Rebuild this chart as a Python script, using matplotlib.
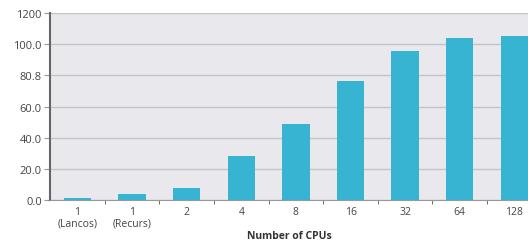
import matplotlib
matplotlib.use('Agg')
import matplotlib.pyplot as plt
import numpy as np

# data
categories = ['1\n(Lancos)', '1\n(Recurs)', '2', '4', '8', '16', '32', '64', '128']
speedup = [1.5, 4.0, 7.5, 28.4, 49.0, 76.5, 95.8, 104.0, 105.2]
ytick_values = [0, 20, 40, 60, 80, 100, 120]
ytick_labels = ['0.0', '20.0', '40.0', '60.0', '80.8', '100.0', '1200']

plt.rcParams['font.family'] = ['Open Sans', 'DejaVu Sans']

fig = plt.figure(figsize=(5.28, 2.53), dpi=100)
ax = fig.add_axes([0.095, 0.205, 0.905, 0.74])
ax.set_facecolor('#e9e9ed')

x = np.arange(len(categories))
ax.bar(x, speedup, width=0.5, color='#36b4d2', zorder=3)

ax.set_ylim(0, 120)
ax.set_yticks(ytick_values)
ax.set_yticklabels(ytick_labels, fontsize=8, color='#444444')
ax.yaxis.grid(True, color='#c4c4c9', linewidth=1.0, zorder=0)
ax.set_xlim(-0.5, 8.25)
ax.set_xticks(x)
ax.set_xticklabels(categories, fontsize=7.5, color='#444444', linespacing=1.1)
ax.set_xticks(x[:-1] + 0.5, minor=True)
ax.tick_params(axis='x', which='major', length=0, pad=4)
ax.tick_params(axis='x', which='minor', length=3, color='#555555', direction='out')
ax.tick_params(axis='y', length=4, color='#999999', pad=2)

for s in ['top', 'right']:
    ax.spines[s].set_visible(False)
ax.spines['left'].set_color('#666666')
ax.spines['left'].set_linewidth(1.5)
ax.spines['bottom'].set_color('#999999')

ax.set_xlabel('Number of CPUs', fontsize=7.5, fontweight='bold', color='#333333', labelpad=1)

fig.savefig('out.png', dpi=100)
